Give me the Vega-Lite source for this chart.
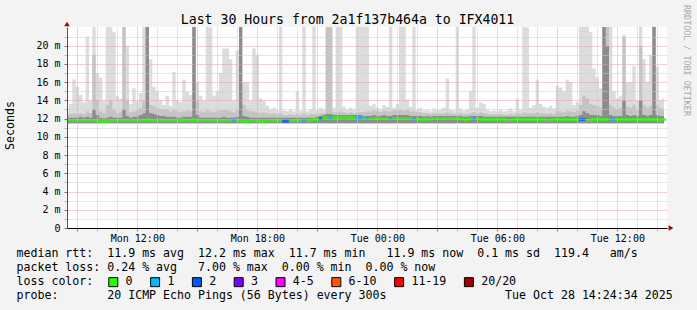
{
  "$schema": "https://vega.github.io/schema/vega-lite/v6.json",
  "width": 600,
  "height": 201,
  "autosize": {"type": "none"},
  "padding": {"left": 67, "top": 27, "right": 30, "bottom": 82},
  "background": "#f3f3f3",
  "config": {"view": {"stroke": null, "fill": "white"}},
  "title": {"text": "Last 30 Hours from 2a1f137b464a to IFX4011", "font": "DejaVu Sans Mono", "fontSize": 13.2, "fontWeight": "normal", "color": "black", "anchor": "middle", "frame": "group", "dx": -19.5, "offset": -22},
  "data": {"values": [
{"t":"2025-10-27T08:30","h":13.2,"m":12.4,"d":12.1,"r":11.8,"l":"0"},
{"t":"2025-10-27T08:40","h":13.6,"m":12.5,"d":12.1,"r":11.8,"l":"0"},
{"t":"2025-10-27T08:50","h":16.3,"m":12.6,"d":12.1,"r":11.8,"l":"0"},
{"t":"2025-10-27T09:00","h":15.5,"m":12.5,"d":12.1,"r":11.8,"l":"0"},
{"t":"2025-10-27T09:10","h":14.6,"m":12.6,"d":12.2,"r":11.8,"l":"0"},
{"t":"2025-10-27T09:20","h":13.8,"m":12.5,"d":12.1,"r":11.8,"l":"0"},
{"t":"2025-10-27T09:30","h":21.0,"m":12.8,"d":12.2,"r":11.8,"l":"0"},
{"t":"2025-10-27T09:40","h":14.0,"m":12.6,"d":12.1,"r":11.8,"l":"0"},
{"t":"2025-10-27T09:50","h":23,"m":19,"d":13,"r":11.8,"l":"0"},
{"t":"2025-10-27T10:00","h":17,"m":14,"d":12.4,"r":11.8,"l":"0"},
{"t":"2025-10-27T10:10","h":16.5,"m":12.8,"d":12.1,"r":11.7,"l":"0"},
{"t":"2025-10-27T10:20","h":14,"m":12.6,"d":12.0,"r":11.7,"l":"0"},
{"t":"2025-10-27T10:30","h":23,"m":13.5,"d":12.1,"r":11.7,"l":"0"},
{"t":"2025-10-27T10:40","h":23,"m":14,"d":12.2,"r":11.8,"l":"0"},
{"t":"2025-10-27T10:50","h":21.5,"m":13,"d":12.1,"r":11.8,"l":"0"},
{"t":"2025-10-27T11:00","h":14.5,"m":12.6,"d":12.1,"r":11.8,"l":"0"},
{"t":"2025-10-27T11:10","h":14.2,"m":12.8,"d":12.1,"r":11.8,"l":"0"},
{"t":"2025-10-27T11:20","h":23,"m":23,"d":13,"r":11.8,"l":"0"},
{"t":"2025-10-27T11:30","h":20,"m":14,"d":12.3,"r":11.8,"l":"0"},
{"t":"2025-10-27T11:40","h":13.6,"m":12.7,"d":12.1,"r":11.8,"l":"0"},
{"t":"2025-10-27T11:50","h":15.3,"m":12.8,"d":12.2,"r":11.8,"l":"0"},
{"t":"2025-10-27T12:00","h":13.9,"m":12.9,"d":12.2,"r":11.8,"l":"0"},
{"t":"2025-10-27T12:10","h":14.8,"m":13.2,"d":12.4,"r":11.8,"l":"0"},
{"t":"2025-10-27T12:20","h":23,"m":14,"d":12.6,"r":11.8,"l":"0"},
{"t":"2025-10-27T12:30","h":23,"m":23,"d":23,"r":11.9,"l":"0"},
{"t":"2025-10-27T12:40","h":18.5,"m":13.5,"d":12.6,"r":11.8,"l":"0"},
{"t":"2025-10-27T12:50","h":15.5,"m":13.4,"d":12.5,"r":11.8,"l":"0"},
{"t":"2025-10-27T13:00","h":15,"m":13.2,"d":12.4,"r":11.8,"l":"0"},
{"t":"2025-10-27T13:10","h":14,"m":13,"d":12.3,"r":11.8,"l":"0"},
{"t":"2025-10-27T13:20","h":13.5,"m":13,"d":12.3,"r":11.8,"l":"0"},
{"t":"2025-10-27T13:30","h":14.5,"m":13,"d":12.2,"r":11.8,"l":"0"},
{"t":"2025-10-27T13:40","h":13.4,"m":12.8,"d":12.2,"r":11.8,"l":"0"},
{"t":"2025-10-27T13:50","h":17.1,"m":13,"d":12.2,"r":11.8,"l":"0"},
{"t":"2025-10-27T14:00","h":14,"m":12.8,"d":12.1,"r":11.8,"l":"0"},
{"t":"2025-10-27T14:10","h":13.8,"m":12.7,"d":12.1,"r":11.8,"l":"0"},
{"t":"2025-10-27T14:20","h":16.3,"m":12.8,"d":12.2,"r":11.9,"l":"0"},
{"t":"2025-10-27T14:30","h":15,"m":12.9,"d":12.2,"r":11.8,"l":"0"},
{"t":"2025-10-27T14:40","h":14.6,"m":12.8,"d":12.2,"r":11.8,"l":"0"},
{"t":"2025-10-27T14:50","h":23,"m":23,"d":23,"r":11.9,"l":"0"},
{"t":"2025-10-27T15:00","h":16,"m":14,"d":12.4,"r":11.8,"l":"0"},
{"t":"2025-10-27T15:10","h":14.5,"m":12.8,"d":12.1,"r":11.8,"l":"0"},
{"t":"2025-10-27T15:20","h":14,"m":12.7,"d":12.1,"r":11.8,"l":"0"},
{"t":"2025-10-27T15:30","h":23,"m":13,"d":12.1,"r":11.8,"l":"0"},
{"t":"2025-10-27T15:40","h":22,"m":12.8,"d":12.1,"r":11.8,"l":"0"},
{"t":"2025-10-27T15:50","h":14.5,"m":12.7,"d":12.1,"r":11.8,"l":"0"},
{"t":"2025-10-27T16:00","h":15,"m":12.8,"d":12.1,"r":11.8,"l":"0"},
{"t":"2025-10-27T16:10","h":17,"m":12.9,"d":12.1,"r":11.8,"l":"0"},
{"t":"2025-10-27T16:20","h":19.7,"m":13,"d":12.2,"r":11.8,"l":"0"},
{"t":"2025-10-27T16:30","h":19.7,"m":12.9,"d":12.1,"r":11.8,"l":"0"},
{"t":"2025-10-27T16:40","h":18.5,"m":12.8,"d":12.1,"r":11.8,"l":"0"},
{"t":"2025-10-27T16:50","h":14,"m":12.7,"d":12.1,"r":11.8,"l":"1"},
{"t":"2025-10-27T17:00","h":19.5,"m":13,"d":12.2,"r":11.8,"l":"0"},
{"t":"2025-10-27T17:10","h":23,"m":15,"d":23,"r":11.8,"l":"0"},
{"t":"2025-10-27T17:20","h":16,"m":13.5,"d":12.3,"r":11.7,"l":"0"},
{"t":"2025-10-27T17:30","h":16,"m":13,"d":12.2,"r":11.7,"l":"0"},
{"t":"2025-10-27T17:40","h":14,"m":12.8,"d":12.1,"r":11.8,"l":"0"},
{"t":"2025-10-27T17:50","h":19.7,"m":12.8,"d":12.1,"r":11.8,"l":"0"},
{"t":"2025-10-27T18:00","h":19,"m":12.7,"d":12.1,"r":11.8,"l":"0"},
{"t":"2025-10-27T18:10","h":14.2,"m":12.6,"d":12.1,"r":11.7,"l":"0"},
{"t":"2025-10-27T18:20","h":14,"m":12.7,"d":12.1,"r":11.7,"l":"0"},
{"t":"2025-10-27T18:30","h":13.4,"m":12.6,"d":12.1,"r":11.8,"l":"0"},
{"t":"2025-10-27T18:40","h":13,"m":12.5,"d":12.1,"r":11.8,"l":"0"},
{"t":"2025-10-27T18:50","h":13.2,"m":12.6,"d":12.1,"r":11.8,"l":"0"},
{"t":"2025-10-27T19:00","h":12.9,"m":12.5,"d":12.1,"r":11.8,"l":"0"},
{"t":"2025-10-27T19:10","h":23,"m":12.6,"d":12.1,"r":11.8,"l":"0"},
{"t":"2025-10-27T19:20","h":12.9,"m":12.4,"d":12.1,"r":11.7,"l":"2"},
{"t":"2025-10-27T19:30","h":12.8,"m":12.4,"d":12.1,"r":11.7,"l":"2"},
{"t":"2025-10-27T19:40","h":13,"m":12.5,"d":12.1,"r":11.8,"l":"0"},
{"t":"2025-10-27T19:50","h":12.8,"m":12.4,"d":12.1,"r":11.8,"l":"0"},
{"t":"2025-10-27T20:00","h":15,"m":12.5,"d":12.1,"r":11.8,"l":"0"},
{"t":"2025-10-27T20:10","h":12.9,"m":12.4,"d":12.1,"r":11.8,"l":"0"},
{"t":"2025-10-27T20:20","h":23,"m":12.6,"d":12.1,"r":11.8,"l":"1"},
{"t":"2025-10-27T20:30","h":12.8,"m":12.4,"d":12.1,"r":11.8,"l":"0"},
{"t":"2025-10-27T20:40","h":13,"m":12.5,"d":12.1,"r":11.8,"l":"0"},
{"t":"2025-10-27T20:50","h":23,"m":12.5,"d":12.1,"r":11.9,"l":"0"},
{"t":"2025-10-27T21:00","h":12.9,"m":12.4,"d":12.2,"r":11.9,"l":"0"},
{"t":"2025-10-27T21:10","h":13.2,"m":12.6,"d":12.3,"r":12.0,"l":"2"},
{"t":"2025-10-27T21:20","h":13,"m":12.6,"d":12.4,"r":12.1,"l":"0"},
{"t":"2025-10-27T21:30","h":23,"m":23,"d":12.5,"r":12.1,"l":"0"},
{"t":"2025-10-27T21:40","h":23,"m":23,"d":12.5,"r":12.1,"l":"1"},
{"t":"2025-10-27T21:50","h":13.2,"m":12.7,"d":12.4,"r":12.1,"l":"0"},
{"t":"2025-10-27T22:00","h":23,"m":12.7,"d":12.4,"r":12.1,"l":"0"},
{"t":"2025-10-27T22:10","h":23,"m":12.8,"d":12.4,"r":12.1,"l":"0"},
{"t":"2025-10-27T22:20","h":13.3,"m":12.7,"d":12.4,"r":12.2,"l":"0"},
{"t":"2025-10-27T22:30","h":13,"m":12.6,"d":12.4,"r":12.1,"l":"0"},
{"t":"2025-10-27T22:40","h":13.2,"m":12.7,"d":12.4,"r":12.1,"l":"0"},
{"t":"2025-10-27T22:50","h":13,"m":12.6,"d":12.4,"r":12.1,"l":"0"},
{"t":"2025-10-27T23:00","h":23,"m":12.7,"d":12.4,"r":12.1,"l":"1"},
{"t":"2025-10-27T23:10","h":23,"m":12.7,"d":12.4,"r":12.1,"l":"1"},
{"t":"2025-10-27T23:20","h":23,"m":12.7,"d":12.3,"r":12.0,"l":"0"},
{"t":"2025-10-27T23:30","h":23,"m":12.8,"d":12.3,"r":12.0,"l":"1"},
{"t":"2025-10-27T23:40","h":13.4,"m":12.8,"d":12.3,"r":12.0,"l":"0"},
{"t":"2025-10-27T23:50","h":13.6,"m":12.9,"d":12.4,"r":12.0,"l":"0"},
{"t":"2025-10-28T00:00","h":13.2,"m":12.8,"d":12.3,"r":12.0,"l":"0"},
{"t":"2025-10-28T00:10","h":13,"m":12.7,"d":12.3,"r":12.0,"l":"0"},
{"t":"2025-10-28T00:20","h":13.5,"m":12.9,"d":12.4,"r":12.0,"l":"0"},
{"t":"2025-10-28T00:30","h":13.3,"m":12.8,"d":12.3,"r":12.0,"l":"0"},
{"t":"2025-10-28T00:40","h":23,"m":12.8,"d":12.3,"r":12.0,"l":"1"},
{"t":"2025-10-28T00:50","h":13.2,"m":12.9,"d":12.4,"r":12.0,"l":"0"},
{"t":"2025-10-28T01:00","h":13.6,"m":12.9,"d":12.4,"r":12.0,"l":"0"},
{"t":"2025-10-28T01:10","h":23,"m":13,"d":12.4,"r":12.0,"l":"0"},
{"t":"2025-10-28T01:20","h":23,"m":12.9,"d":12.4,"r":12.0,"l":"0"},
{"t":"2025-10-28T01:30","h":14.1,"m":13,"d":12.4,"r":12.0,"l":"0"},
{"t":"2025-10-28T01:40","h":13.3,"m":12.8,"d":12.3,"r":12.0,"l":"0"},
{"t":"2025-10-28T01:50","h":23,"m":12.8,"d":12.3,"r":12.0,"l":"1"},
{"t":"2025-10-28T02:00","h":13,"m":12.7,"d":12.3,"r":12.0,"l":"0"},
{"t":"2025-10-28T02:10","h":13.2,"m":12.7,"d":12.3,"r":11.9,"l":"0"},
{"t":"2025-10-28T02:20","h":12.9,"m":12.6,"d":12.2,"r":11.9,"l":"0"},
{"t":"2025-10-28T02:30","h":13,"m":12.6,"d":12.3,"r":12.0,"l":"0"},
{"t":"2025-10-28T02:40","h":12.8,"m":12.5,"d":12.2,"r":11.9,"l":"0"},
{"t":"2025-10-28T02:50","h":13.1,"m":12.6,"d":12.3,"r":12.0,"l":"0"},
{"t":"2025-10-28T03:00","h":12.9,"m":12.5,"d":12.3,"r":12.0,"l":"0"},
{"t":"2025-10-28T03:10","h":13,"m":12.6,"d":12.3,"r":12.0,"l":"0"},
{"t":"2025-10-28T03:20","h":13.2,"m":12.6,"d":12.3,"r":12.0,"l":"0"},
{"t":"2025-10-28T03:30","h":16.4,"m":12.7,"d":12.3,"r":12.0,"l":"0"},
{"t":"2025-10-28T03:40","h":13,"m":12.6,"d":12.3,"r":12.0,"l":"0"},
{"t":"2025-10-28T03:50","h":12.9,"m":12.5,"d":12.3,"r":12.0,"l":"0"},
{"t":"2025-10-28T04:00","h":23,"m":12.6,"d":12.3,"r":12.0,"l":"0"},
{"t":"2025-10-28T04:10","h":13.1,"m":12.6,"d":12.3,"r":12.0,"l":"0"},
{"t":"2025-10-28T04:20","h":12.9,"m":12.5,"d":12.2,"r":11.9,"l":"0"},
{"t":"2025-10-28T04:30","h":13,"m":12.5,"d":12.2,"r":11.9,"l":"0"},
{"t":"2025-10-28T04:40","h":15,"m":12.6,"d":12.3,"r":12.0,"l":"0"},
{"t":"2025-10-28T04:50","h":23,"m":12.7,"d":12.3,"r":12.0,"l":"1"},
{"t":"2025-10-28T05:00","h":13.2,"m":12.6,"d":12.3,"r":12.0,"l":"0"},
{"t":"2025-10-28T05:10","h":13.8,"m":12.7,"d":12.3,"r":11.9,"l":"0"},
{"t":"2025-10-28T05:20","h":13.6,"m":12.6,"d":12.2,"r":11.9,"l":"0"},
{"t":"2025-10-28T05:30","h":13,"m":12.5,"d":12.2,"r":11.9,"l":"0"},
{"t":"2025-10-28T05:40","h":12.8,"m":12.4,"d":12.2,"r":11.9,"l":"0"},
{"t":"2025-10-28T05:50","h":12.9,"m":12.5,"d":12.2,"r":11.9,"l":"0"},
{"t":"2025-10-28T06:00","h":12.8,"m":12.4,"d":12.2,"r":11.9,"l":"0"},
{"t":"2025-10-28T06:10","h":13,"m":12.5,"d":12.2,"r":11.9,"l":"0"},
{"t":"2025-10-28T06:20","h":12.8,"m":12.4,"d":12.2,"r":11.9,"l":"0"},
{"t":"2025-10-28T06:30","h":12.9,"m":12.4,"d":12.2,"r":11.8,"l":"0"},
{"t":"2025-10-28T06:40","h":13.1,"m":12.5,"d":12.2,"r":11.8,"l":"0"},
{"t":"2025-10-28T06:50","h":12.8,"m":12.4,"d":12.2,"r":11.9,"l":"0"},
{"t":"2025-10-28T07:00","h":14.2,"m":12.6,"d":12.2,"r":11.9,"l":"0"},
{"t":"2025-10-28T07:10","h":13,"m":12.5,"d":12.2,"r":11.9,"l":"0"},
{"t":"2025-10-28T07:20","h":23,"m":12.7,"d":12.2,"r":11.9,"l":"0"},
{"t":"2025-10-28T07:30","h":22,"m":12.6,"d":12.2,"r":11.9,"l":"0"},
{"t":"2025-10-28T07:40","h":13.2,"m":12.6,"d":12.2,"r":11.9,"l":"0"},
{"t":"2025-10-28T07:50","h":13.5,"m":12.6,"d":12.2,"r":11.9,"l":"0"},
{"t":"2025-10-28T08:00","h":16.3,"m":12.7,"d":12.2,"r":11.9,"l":"0"},
{"t":"2025-10-28T08:10","h":13.6,"m":12.6,"d":12.2,"r":11.9,"l":"0"},
{"t":"2025-10-28T08:20","h":13.3,"m":12.6,"d":12.2,"r":11.9,"l":"0"},
{"t":"2025-10-28T08:30","h":13.2,"m":12.5,"d":12.2,"r":11.8,"l":"0"},
{"t":"2025-10-28T08:40","h":13.4,"m":12.6,"d":12.2,"r":11.8,"l":"0"},
{"t":"2025-10-28T08:50","h":13.1,"m":12.5,"d":12.2,"r":11.9,"l":"0"},
{"t":"2025-10-28T09:00","h":15.6,"m":12.8,"d":12.2,"r":11.9,"l":"0"},
{"t":"2025-10-28T09:10","h":15.4,"m":12.8,"d":12.2,"r":11.9,"l":"0"},
{"t":"2025-10-28T09:20","h":15,"m":12.7,"d":12.2,"r":11.9,"l":"0"},
{"t":"2025-10-28T09:30","h":16.3,"m":12.9,"d":12.3,"r":11.9,"l":"0"},
{"t":"2025-10-28T09:40","h":16,"m":12.8,"d":12.2,"r":11.9,"l":"0"},
{"t":"2025-10-28T09:50","h":13.5,"m":12.7,"d":12.2,"r":11.9,"l":"0"},
{"t":"2025-10-28T10:00","h":13.8,"m":12.9,"d":12.3,"r":11.9,"l":"0"},
{"t":"2025-10-28T10:10","h":23,"m":13.5,"d":12.4,"r":11.9,"l":"2"},
{"t":"2025-10-28T10:20","h":23,"m":14.5,"d":12.8,"r":11.9,"l":"2"},
{"t":"2025-10-28T10:30","h":23,"m":14.2,"d":12.6,"r":11.8,"l":"0"},
{"t":"2025-10-28T10:40","h":21.5,"m":13.6,"d":12.4,"r":11.8,"l":"0"},
{"t":"2025-10-28T10:50","h":17.5,"m":13.5,"d":12.4,"r":11.9,"l":"0"},
{"t":"2025-10-28T11:00","h":16.5,"m":13.4,"d":12.4,"r":11.9,"l":"0"},
{"t":"2025-10-28T11:10","h":15.3,"m":13.2,"d":12.3,"r":11.9,"l":"0"},
{"t":"2025-10-28T11:20","h":23,"m":23,"d":23,"r":11.9,"l":"0"},
{"t":"2025-10-28T11:30","h":23,"m":23,"d":20,"r":11.9,"l":"0"},
{"t":"2025-10-28T11:40","h":23,"m":13.5,"d":12.4,"r":11.8,"l":"1"},
{"t":"2025-10-28T11:50","h":15,"m":13.2,"d":12.3,"r":11.8,"l":"1"},
{"t":"2025-10-28T12:00","h":14.2,"m":13,"d":12.3,"r":11.9,"l":"0"},
{"t":"2025-10-28T12:10","h":14.5,"m":13.2,"d":12.3,"r":11.9,"l":"0"},
{"t":"2025-10-28T12:20","h":21.2,"m":21,"d":14,"r":11.9,"l":"0"},
{"t":"2025-10-28T12:30","h":16,"m":13.3,"d":12.4,"r":11.9,"l":"0"},
{"t":"2025-10-28T12:40","h":16,"m":13.2,"d":12.3,"r":11.9,"l":"0"},
{"t":"2025-10-28T12:50","h":17.8,"m":13.5,"d":12.4,"r":11.9,"l":"0"},
{"t":"2025-10-28T13:00","h":14,"m":13,"d":12.3,"r":11.9,"l":"0"},
{"t":"2025-10-28T13:10","h":23,"m":20,"d":14,"r":11.9,"l":"0"},
{"t":"2025-10-28T13:20","h":18.5,"m":13.5,"d":12.4,"r":11.9,"l":"0"},
{"t":"2025-10-28T13:30","h":16,"m":13.2,"d":12.3,"r":11.9,"l":"0"},
{"t":"2025-10-28T13:40","h":19,"m":13.4,"d":12.4,"r":11.9,"l":"0"},
{"t":"2025-10-28T13:50","h":23,"m":23,"d":23,"r":11.9,"l":"0"},
{"t":"2025-10-28T14:00","h":17.7,"m":13.5,"d":12.4,"r":11.9,"l":"0"},
{"t":"2025-10-28T14:10","h":14,"m":13.2,"d":12.3,"r":11.8,"l":"0"},
{"t":"2025-10-28T14:20","h":14.2,"m":13,"d":12.3,"r":11.9,"l":"0"}
  ]},
  "layer": [
    {
      "mark": {"type": "area", "interpolate": "step", "color": "#dcdcdc", "clip": true},
      "encoding": {
        "x": {"field": "t", "type": "temporal",
          "scale": {"domain": [{"year": 2025, "month": 10, "date": 27, "hours": 8, "minutes": 29}, {"year": 2025, "month": 10, "date": 28, "hours": 14, "minutes": 29}]},
          "axis": {
            "zindex": 1,
            "tickCount": 100,
            "values": [
              {"year": 2025, "month": 10, "date": 27, "hours": 9}, {"year": 2025, "month": 10, "date": 27, "hours": 10}, {"year": 2025, "month": 10, "date": 27, "hours": 11},
              {"year": 2025, "month": 10, "date": 27, "hours": 12}, {"year": 2025, "month": 10, "date": 27, "hours": 13}, {"year": 2025, "month": 10, "date": 27, "hours": 14},
              {"year": 2025, "month": 10, "date": 27, "hours": 15}, {"year": 2025, "month": 10, "date": 27, "hours": 16}, {"year": 2025, "month": 10, "date": 27, "hours": 17},
              {"year": 2025, "month": 10, "date": 27, "hours": 18}, {"year": 2025, "month": 10, "date": 27, "hours": 19}, {"year": 2025, "month": 10, "date": 27, "hours": 20},
              {"year": 2025, "month": 10, "date": 27, "hours": 21}, {"year": 2025, "month": 10, "date": 27, "hours": 22}, {"year": 2025, "month": 10, "date": 27, "hours": 23},
              {"year": 2025, "month": 10, "date": 28, "hours": 0}, {"year": 2025, "month": 10, "date": 28, "hours": 1}, {"year": 2025, "month": 10, "date": 28, "hours": 2},
              {"year": 2025, "month": 10, "date": 28, "hours": 3}, {"year": 2025, "month": 10, "date": 28, "hours": 4}, {"year": 2025, "month": 10, "date": 28, "hours": 5},
              {"year": 2025, "month": 10, "date": 28, "hours": 6}, {"year": 2025, "month": 10, "date": 28, "hours": 7}, {"year": 2025, "month": 10, "date": 28, "hours": 8},
              {"year": 2025, "month": 10, "date": 28, "hours": 9}, {"year": 2025, "month": 10, "date": 28, "hours": 10}, {"year": 2025, "month": 10, "date": 28, "hours": 11},
              {"year": 2025, "month": 10, "date": 28, "hours": 12}, {"year": 2025, "month": 10, "date": 28, "hours": 13}, {"year": 2025, "month": 10, "date": 28, "hours": 14}
            ],
            "grid": true, "gridDash": [1, 1], "gridWidth": 1,
            "gridColor": {"condition": {"test": "hours(datum.value) % 3 == 0", "value": "#e6a2a2"}, "value": "#cdcdcd"},
            "ticks": true, "tickSize": 3,
            "tickColor": {"condition": {"test": "hours(datum.value) % 3 == 0", "value": "#c07070"}, "value": "#bbbbbb"},
            "domain": true, "domainColor": "black", "domainWidth": 1,
            "labelExpr": "hours(datum.value) % 6 == 0 ? timeFormat(datum.value, '%a %H:%M') : ''",
            "labelFont": "DejaVu Sans Mono", "labelFontSize": 10, "labelColor": "black", "labelPadding": 2, "labelOverlap": false, "labelFlush": false,
            "title": [
              "median rtt:\u00a0\u00a011.9 ms avg\u00a0\u00a012.2 ms max\u00a0\u00a011.7 ms min\u00a0\u00a0\u00a011.9 ms now\u00a0\u00a00.1 ms sd\u00a0\u00a0119.4\u00a0\u00a0\u00a0am/s",
              "packet loss: 0.24 % avg\u00a0\u00a0\u00a07.00 % max\u00a0\u00a00.00 % min\u00a0\u00a00.00 % now",
              "loss color:",
              "probe:\u00a0\u00a0\u00a0\u00a0\u00a0\u00a0\u00a020 ICMP Echo Pings (56 Bytes) every 300s\u00a0\u00a0\u00a0\u00a0\u00a0\u00a0\u00a0\u00a0\u00a0\u00a0\u00a0\u00a0\u00a0\u00a0\u00a0\u00a0\u00a0Tue Oct 28 14:24:34 2025"
            ],
            "titleFont": "DejaVu Sans Mono", "titleFontSize": 11.6, "titleFontWeight": "normal", "titleColor": "black",
            "titleAnchor": "start", "titleAlign": "left", "titleBaseline": "top", "titleX": -51, "titleY": 19.5, "titleLineHeight": 14
          }
        },
        "y": {"field": "h", "type": "quantitative",
          "scale": {"domain": [0, 22.05], "nice": false, "zero": false},
          "axis": {
            "zindex": 1,
            "tickCount": 100,
            "values": [0,1,2,3,4,5,6,7,8,9,10,11,12,13,14,15,16,17,18,19,20,21],
            "grid": true, "gridDash": [1, 1], "gridWidth": 1,
            "gridColor": {"condition": {"test": "datum.value % 2 == 0", "value": "#e6a2a2"}, "value": "#cdcdcd"},
            "ticks": true, "tickSize": 3,
            "tickColor": {"condition": {"test": "datum.value % 2 == 0", "value": "#777777"}, "value": "#bbbbbb"},
            "domain": true, "domainColor": "#555555", "domainWidth": 1,
            "labelExpr": "datum.value % 2 == 0 ? (datum.value == 0 ? '0\u00a0\u00a0' : datum.value + ' m') : ''",
            "labelFont": "DejaVu Sans Mono", "labelFontSize": 10, "labelColor": "black", "labelPadding": 4, "labelOverlap": false, "labelFlush": false,
            "title": "Seconds", "titleFont": "DejaVu Sans Mono", "titleFontSize": 11.6, "titleFontWeight": "normal", "titleColor": "black",
            "titleAngle": -90, "titleX": -57, "titleY": 98, "titleAlign": "center", "titleBaseline": "middle"
          }
        },
        "y2": {"datum": 11.5}
      }
    },
    {
      "mark": {"type": "area", "interpolate": "step", "color": "#c4c4c4", "clip": true},
      "encoding": {
        "x": {"field": "t", "type": "temporal"},
        "y": {"field": "m", "type": "quantitative"},
        "y2": {"datum": 11.5}
      }
    },
    {
      "mark": {"type": "area", "interpolate": "step", "color": "#8c8c8c", "clip": true},
      "encoding": {
        "x": {"field": "t", "type": "temporal"},
        "y": {"field": "d", "type": "quantitative"},
        "y2": {"datum": 11.5}
      }
    },
    {
      "mark": {"type": "tick", "orient": "horizontal", "thickness": 3, "clip": true},
      "encoding": {
        "x": {"field": "t", "type": "temporal"},
        "y": {"field": "r", "type": "quantitative"},
        "size": {"value": 4},
        "color": {"field": "l", "type": "nominal",
          "scale": {"domain": ["0", "1", "2", "3", "4-5", "6-10", "11-19", "20/20"],
                    "range": ["#26ff00", "#00b8ff", "#0059ff", "#7e00ff", "#ff00ff", "#ff5500", "#ff0000", "#a10000"]},
          "legend": {"orient": "none", "legendX": 40.5, "legendY": 249, "direction": "horizontal", "title": null,
            "symbolType": "square", "symbolSize": 81, "symbolStrokeColor": "black", "symbolStrokeWidth": 1, "symbolOpacity": 1,
            "labelFont": "DejaVu Sans Mono", "labelFontSize": 11.6, "labelColor": "black", "labelOffset": 6.5,
            "columnPadding": 14.8, "padding": 0}
        }
      }
    },
    {
      "data": {"values": [{"w": "RRDTOOL / TOBI OETIKER"}]},
      "mark": {"type": "text", "angle": 90, "align": "left", "baseline": "middle", "font": "DejaVu Sans Mono", "fontSize": 8.4, "color": "#a8a8a8", "xOffset": 20, "yOffset": -22, "clip": false},
      "encoding": {
        "x": {"datum": {"year": 2025, "month": 10, "date": 28, "hours": 14, "minutes": 29}, "type": "temporal"},
        "y": {"datum": 22.05, "type": "quantitative"},
        "text": {"field": "w"}
      }
    },
    {
      "data": {"values": [{}]},
      "mark": {"type": "point", "shape": "triangle-up", "filled": true, "color": "#a00000", "size": 30, "opacity": 1, "clip": false, "yOffset": -3},
      "encoding": {
        "x": {"datum": {"year": 2025, "month": 10, "date": 27, "hours": 8, "minutes": 29}, "type": "temporal"},
        "y": {"datum": 22.05, "type": "quantitative"}
      }
    },
    {
      "data": {"values": [{}]},
      "mark": {"type": "point", "shape": "triangle-right", "filled": true, "color": "#a00000", "size": 30, "opacity": 1, "clip": false, "xOffset": 4},
      "encoding": {
        "x": {"datum": {"year": 2025, "month": 10, "date": 28, "hours": 14, "minutes": 29}, "type": "temporal"},
        "y": {"datum": 0, "type": "quantitative"}
      }
    }
  ]
}
